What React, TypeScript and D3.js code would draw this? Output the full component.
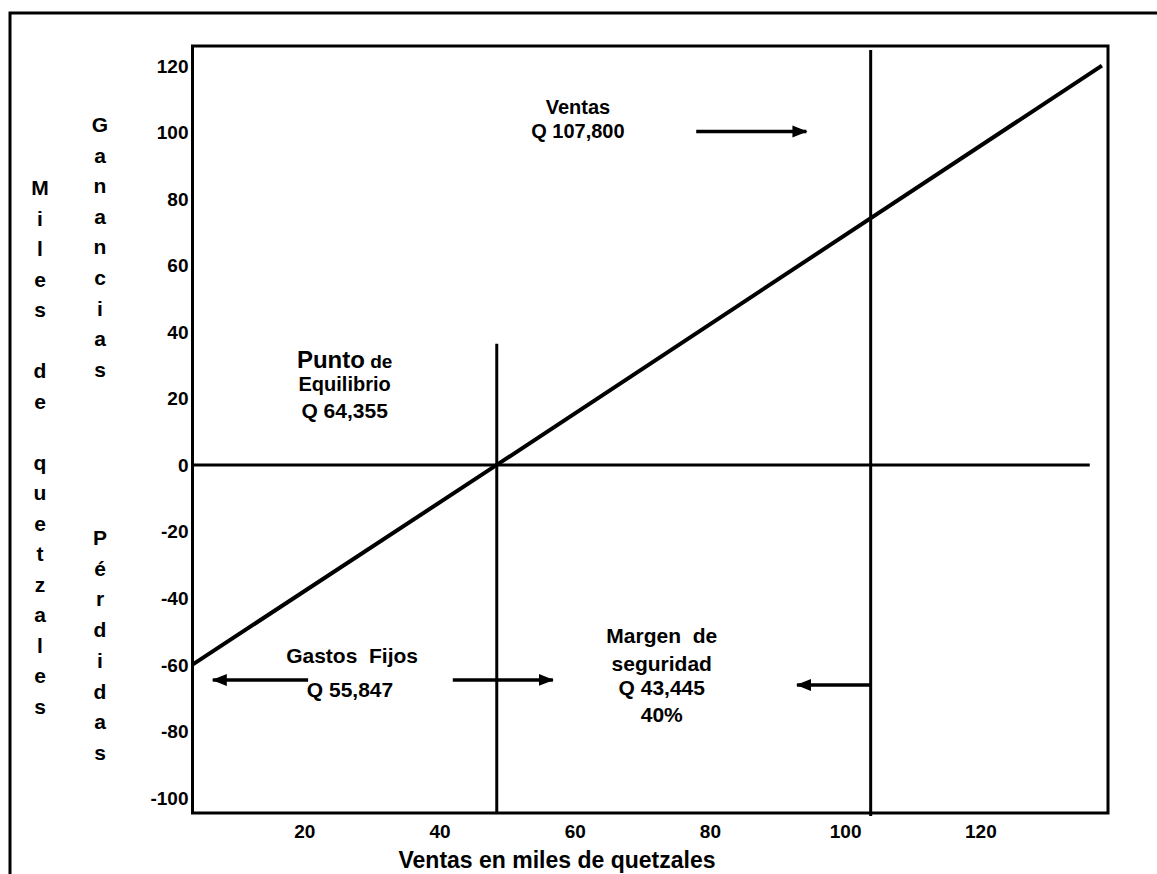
import React from "react";
import * as d3 from "d3";

// ---- data ----
const X_TICKS = [20, 40, 60, 80, 100, 120];
const Y_TICKS = [120, 100, 80, 60, 40, 20, 0, -20, -40, -60, -80, -100];
const X_DOMAIN = [3.4, 138.8];
const Y_DOMAIN = [-104.6, 125.9];

// profit/loss line (miles de quetzales)
const PROFIT_X = [3.4, 48.4, 137.9];
const PROFIT_Y = [-60, 0, 120];

const BREAK_EVEN_X = 48.4;
const BREAK_EVEN_TOP = 36.4;
const VENTAS_X = 103.7;
const VENTAS_TOP = 124.7;
const ZERO_LINE_END = 136.1;

const ARROWS = [
  { from: [77.9, 100.2], to: [94.2, 100.2] },
  { from: [20.5, -64.6], to: [6.4, -64.6] },
  { from: [41.9, -64.6], to: [56.7, -64.6] },
  { from: [103.7, -66.1], to: [92.8, -66.1] },
];

const LABELS = [
  { x: 60.4, y: 105.5, text: "Ventas", size: 20 },
  { x: 60.4, y: 98.3, text: "Q 107,800", size: 20 },
  { x: 25.9, y: 22.2, text: "Equilibrio", size: 20 },
  { x: 25.9, y: 14.1, text: "Q 64,355", size: 21 },
  { x: 27.0, y: -59.5, text: "Gastos\u00a0\u00a0Fijos", size: 21 },
  { x: 26.7, y: -69.7, text: "Q 55,847", size: 21 },
  { x: 72.8, y: -53.5, text: "Margen\u00a0\u00a0de", size: 21 },
  { x: 72.8, y: -61.9, text: "seguridad", size: 21 },
  { x: 72.8, y: -69.1, text: "Q 43,445", size: 21 },
  { x: 72.8, y: -77.2, text: "40%", size: 21 },
];

const COL1 = ["M", "i", "l", "e", "s", "", "d", "e", "", "q", "u", "e", "t", "z", "a", "l", "e", "s"];
const COL2A = ["G", "a", "n", "a", "n", "c", "i", "a", "s"];
const COL2B = ["P", "é", "r", "d", "i", "d", "a", "s"];
const X_TITLE = "Ventas en miles de quetzales";

const FONT = "'Liberation Sans', Arial, Helvetica, sans-serif";

export default function App() {
  const left = 192.5, top = 46, right = 1108, bottom = 813;
  const x = d3.scaleLinear().domain(X_DOMAIN).range([left, right]);
  const y = d3.scaleLinear().domain(Y_DOMAIN).range([bottom, top]);
  const line = d3.line<number>().x((_, i) => x(PROFIT_X[i])).y((d) => y(d));

  const column = (letters: string[], cx: number, cy: number, step: number) => (
    <text fontFamily={FONT} fontWeight="bold" fontSize={21} textAnchor="middle" fill="#000">
      {letters.map((l, i) =>
        l ? (
          <tspan key={i} x={cx} y={cy + i * step + 7}>
            {l}
          </tspan>
        ) : null
      )}
    </text>
  );

  return (
    <svg
      width={1157}
      height={874}
      style={{ position: "absolute", left: 0, top: 0, background: "#fff" }}
    >
      <defs>
        <marker
          id="ah"
          markerUnits="userSpaceOnUse"
          markerWidth={16}
          markerHeight={14}
          refX={14}
          refY={7}
          orient="auto"
        >
          <path d="M0,1 L15,7 L0,13 Z" fill="#000" />
        </marker>
      </defs>
      <rect x={0} y={0} width={1157} height={874} fill="#fff" />
      {/* outer frame */}
      <rect x={10} y={13} width={1200} height={900} fill="none" stroke="#000" strokeWidth={3} />
      {/* plot box */}
      <rect
        x={left}
        y={top}
        width={right - left}
        height={bottom - top}
        fill="none"
        stroke="#000"
        strokeWidth={3}
      />
      {/* zero line */}
      <line x1={x(X_DOMAIN[0])} x2={x(ZERO_LINE_END)} y1={y(0)} y2={y(0)} stroke="#000" strokeWidth={3} />
      {/* break-even vertical */}
      <line
        x1={x(BREAK_EVEN_X)}
        x2={x(BREAK_EVEN_X)}
        y1={y(BREAK_EVEN_TOP)}
        y2={y(Y_DOMAIN[0])}
        stroke="#000"
        strokeWidth={3}
      />
      {/* ventas vertical */}
      <line
        x1={x(VENTAS_X)}
        x2={x(VENTAS_X)}
        y1={y(VENTAS_TOP)}
        y2={y(Y_DOMAIN[0]) + 3}
        stroke="#000"
        strokeWidth={3}
      />
      {/* profit line */}
      <path d={line(PROFIT_Y) || ""} fill="none" stroke="#000" strokeWidth={4} />
      {/* arrows */}
      {ARROWS.map((a, i) => (
        <line
          key={i}
          x1={x(a.from[0])}
          y1={y(a.from[1])}
          x2={x(a.to[0])}
          y2={y(a.to[1])}
          stroke="#000"
          strokeWidth={3.5}
          markerEnd="url(#ah)"
        />
      ))}
      {/* y tick labels */}
      {Y_TICKS.map((t) => (
        <text
          key={t}
          x={left - 4}
          y={y(t) + 7}
          textAnchor="end"
          fontFamily={FONT}
          fontWeight="bold"
          fontSize={19}
        >
          {t}
        </text>
      ))}
      {/* x tick labels */}
      {X_TICKS.map((t) => (
        <text
          key={t}
          x={x(t)}
          y={bottom + 25}
          textAnchor="middle"
          fontFamily={FONT}
          fontWeight="bold"
          fontSize={19}
        >
          {t}
        </text>
      ))}
      {/* x title */}
      <text x={557} y={868} textAnchor="middle" fontFamily={FONT} fontWeight="bold" fontSize={23}>
        {X_TITLE}
      </text>
      {/* y titles */}
      {column(COL1, 40, 188, 30.5)}
      {column(COL2A, 100, 125, 30.6)}
      {column(COL2B, 100, 538, 30.7)}
      {/* Punto de */}
      <text x={x(25.9)} y={y(29.2)} textAnchor="middle" fontFamily={FONT} fontWeight="bold">
        <tspan fontSize={24}>Punto</tspan>
        <tspan fontSize={19}> de</tspan>
      </text>
      {LABELS.map((l, i) => (
        <text
          key={i}
          x={x(l.x)}
          y={y(l.y)}
          textAnchor="middle"
          fontFamily={FONT}
          fontWeight="bold"
          fontSize={l.size}
        >
          {l.text}
        </text>
      ))}
    </svg>
  );
}
